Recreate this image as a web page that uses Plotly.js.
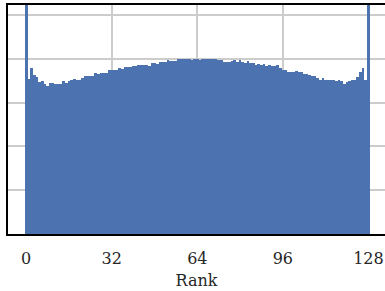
<!DOCTYPE html>
<html>
<head>
<meta charset="utf-8">
<script src="https://cdn.plot.ly/plotly-3.0.1.min.js"></script>
<style>html,body{margin:0;padding:0;background:#fff;}#chart{width:385px;height:291px;}</style>
</head>
<body>
<div id="chart"></div>
<script>
// Rank values 0..128
const ranks = Array.from({length: 129}, (_, i) => i);
// Counts (first and last bars run past the top)
const counts = [
  5600, 3545, 3795, 3636, 3591, 3461, 3484, 3425, 3386, 3455,
  3455, 3432, 3432, 3432, 3500, 3455, 3484, 3523, 3545, 3523,
  3507, 3552, 3614, 3614, 3598, 3614, 3682, 3659, 3682, 3682,
  3682, 3750, 3734, 3750, 3750, 3789, 3766, 3818, 3818, 3802,
  3841, 3841, 3857, 3857, 3857, 3857, 3841, 3902, 3902, 3886,
  3916, 3932, 3932, 3970, 3939, 3955, 3955, 3984, 3984, 3993,
  3993, 3993, 3977, 4000, 4000, 3977, 3993, 4000, 3984, 3984,
  3993, 4000, 3977, 3977, 3932, 3932, 3932, 3939, 3977, 3932,
  3970, 3932, 3902, 3939, 3902, 3902, 3857, 3886, 3848, 3886,
  3825, 3848, 3825, 3825, 3848, 3795, 3750, 3750, 3705, 3705,
  3705, 3727, 3689, 3705, 3659, 3659, 3636, 3614, 3614, 3568,
  3523, 3568, 3523, 3523, 3523, 3523, 3500, 3523, 3484, 3432,
  3461, 3500, 3507, 3507, 3591, 3705, 3795, 3523, 5600
];
const xTicks = [0, 32, 64, 96, 128];
const yTicks = [0, 1000, 2000, 3000, 4000, 5000];

const font = {family: 'DejaVu Serif, serif', size: 16, color: '#262626'};

Plotly.newPlot('chart', [{
  type: 'bar',
  x: ranks,
  y: counts,
  width: 1,
  marker: {color: '#4c72b0', line: {width: 0}},
  hoverinfo: 'skip'
}], {
  width: 385, height: 291,
  margin: {l: 8, r: 0, t: 5, b: 57},
  paper_bgcolor: '#ffffff', plot_bgcolor: '#ffffff',
  showlegend: false,
  bargap: 0,
  font: font,
  xaxis: {
    range: [-6.8, 134.2],
    tickmode: 'array', tickvals: xTicks, ticktext: xTicks.map(String),
    showgrid: true, gridcolor: '#cccccc', gridwidth: 2,
    showline: true, linecolor: '#000000', linewidth: 2, mirror: true,
    ticks: '', ticklabelstandoff: 9,
    zeroline: false,
    tickfont: font,
    title: {text: 'Rank', font: font, standoff: 8}
  },
  yaxis: {
    range: [0, 5227],
    tickmode: 'array', tickvals: yTicks,
    showticklabels: false,
    showgrid: true, gridcolor: '#cccccc', gridwidth: 2,
    showline: true, linecolor: '#000000', linewidth: 2, mirror: false,
    ticks: '', zeroline: false
  }
}, {displayModeBar: false, staticPlot: true});
</script>
</body>
</html>
